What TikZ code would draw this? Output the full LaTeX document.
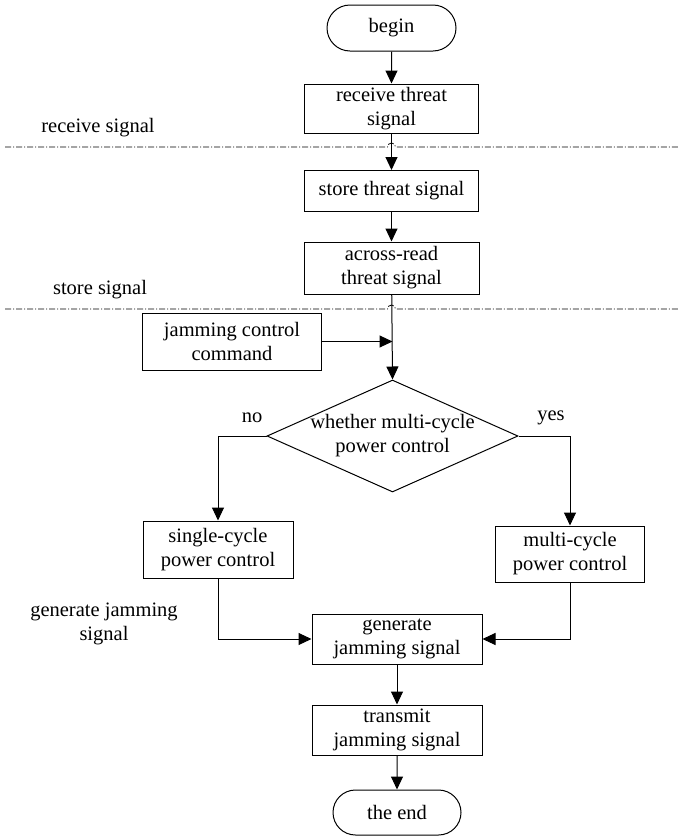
\documentclass[tikz,border=0pt]{standalone}
\usepackage{fontspec}
\setmainfont{Liberation Serif}
\usetikzlibrary{arrows.meta,shapes.geometric,shapes.misc}
\begin{document}
\begin{tikzpicture}[x=1pt,y=-1pt,
  every node/.style={font=\fontsize{20.5}{24}\selectfont, align=center, inner sep=0pt},
  box/.style={draw, line width=1pt, rectangle},
  term/.style={draw, line width=1pt, rounded rectangle},
  decision/.style={draw, line width=1pt, diamond},
  flow/.style={line width=1pt, -{Triangle[length=13pt,width=12pt]}},
  stage/.style={line width=0.8pt, dash pattern=on 6pt off 2pt on 1pt off 2pt}]
\useasboundingbox (0,0) rectangle (679,836);

% main chain
\node[term, minimum width=129, minimum height=46] (begin) at (391.5,28) {begin};
\node[box, minimum width=174, minimum height=49] (recv) at (391.5,108.5) {receive threat\\signal};
\node[box, minimum width=174, minimum height=41] (store) at (391.5,191) {store threat signal};
\node[box, minimum width=175, minimum height=52] (across) at (391.5,268) {across-read\\threat signal};
\node[box, minimum width=179, minimum height=57] (jam) at (232,341.5) {jamming control\\command};
\node[decision, minimum width=251, minimum height=112] (dec) at (392.5,436) {};
\node (dectext) at (dec.center) {whether multi-cycle\\power control};
\node[box, minimum width=150, minimum height=57] (single) at (218,549.5) {single-cycle\\power control};
\node[box, minimum width=149, minimum height=56] (multi) at (570,554) {multi-cycle\\power control};
\node[box, minimum width=170, minimum height=50] (gen) at (397,639) {generate\\jamming signal};
\node[box, minimum width=170, minimum height=50] (trans) at (397,730) {transmit\\jamming signal};
\node[term, minimum width=128, minimum height=45] (end) at (397,812.5) {the end};

% stage labels and branch labels
\node (lblrecv) at (98,128) {receive signal};
\node (lblstore) at (100,290) {store signal};
\node (lblgen) at (104,624) {generate jamming\\signal};
\node (no) at (252,418) {no};
\node (yes) at (551,418) {yes};

% stage separators, hopping over the main line
\coordinate (sepA) at (5,147);
\coordinate (sepB) at (679,147);
\coordinate (sepC) at (5,309);
\coordinate (sepD) at (679,309);
\draw[stage] (sepA) -- (387.5,147) arc(180:360:4) -- (sepB);
\draw[stage] (sepC) -- (387.5,309) arc(180:360:4) -- (sepD);

% connectors
\draw[flow] (begin) -- (recv);
\draw[flow] (recv) -- (store);
\draw[flow] (store) -- (across);
\draw[flow] (across) -- (dec.north);
\draw[flow] (jam.east) -- (jam.east -| dec.north);
\draw[flow] (dec.west) -| (single.north);
\draw[flow] (dec.east) -| (multi.north);
\draw[flow] (single.south) |- (gen.west);
\draw[flow] (multi.south) |- (gen.east);
\draw[flow] (gen) -- (trans);
\draw[flow] (trans) -- (end);
\end{tikzpicture}
\end{document}
